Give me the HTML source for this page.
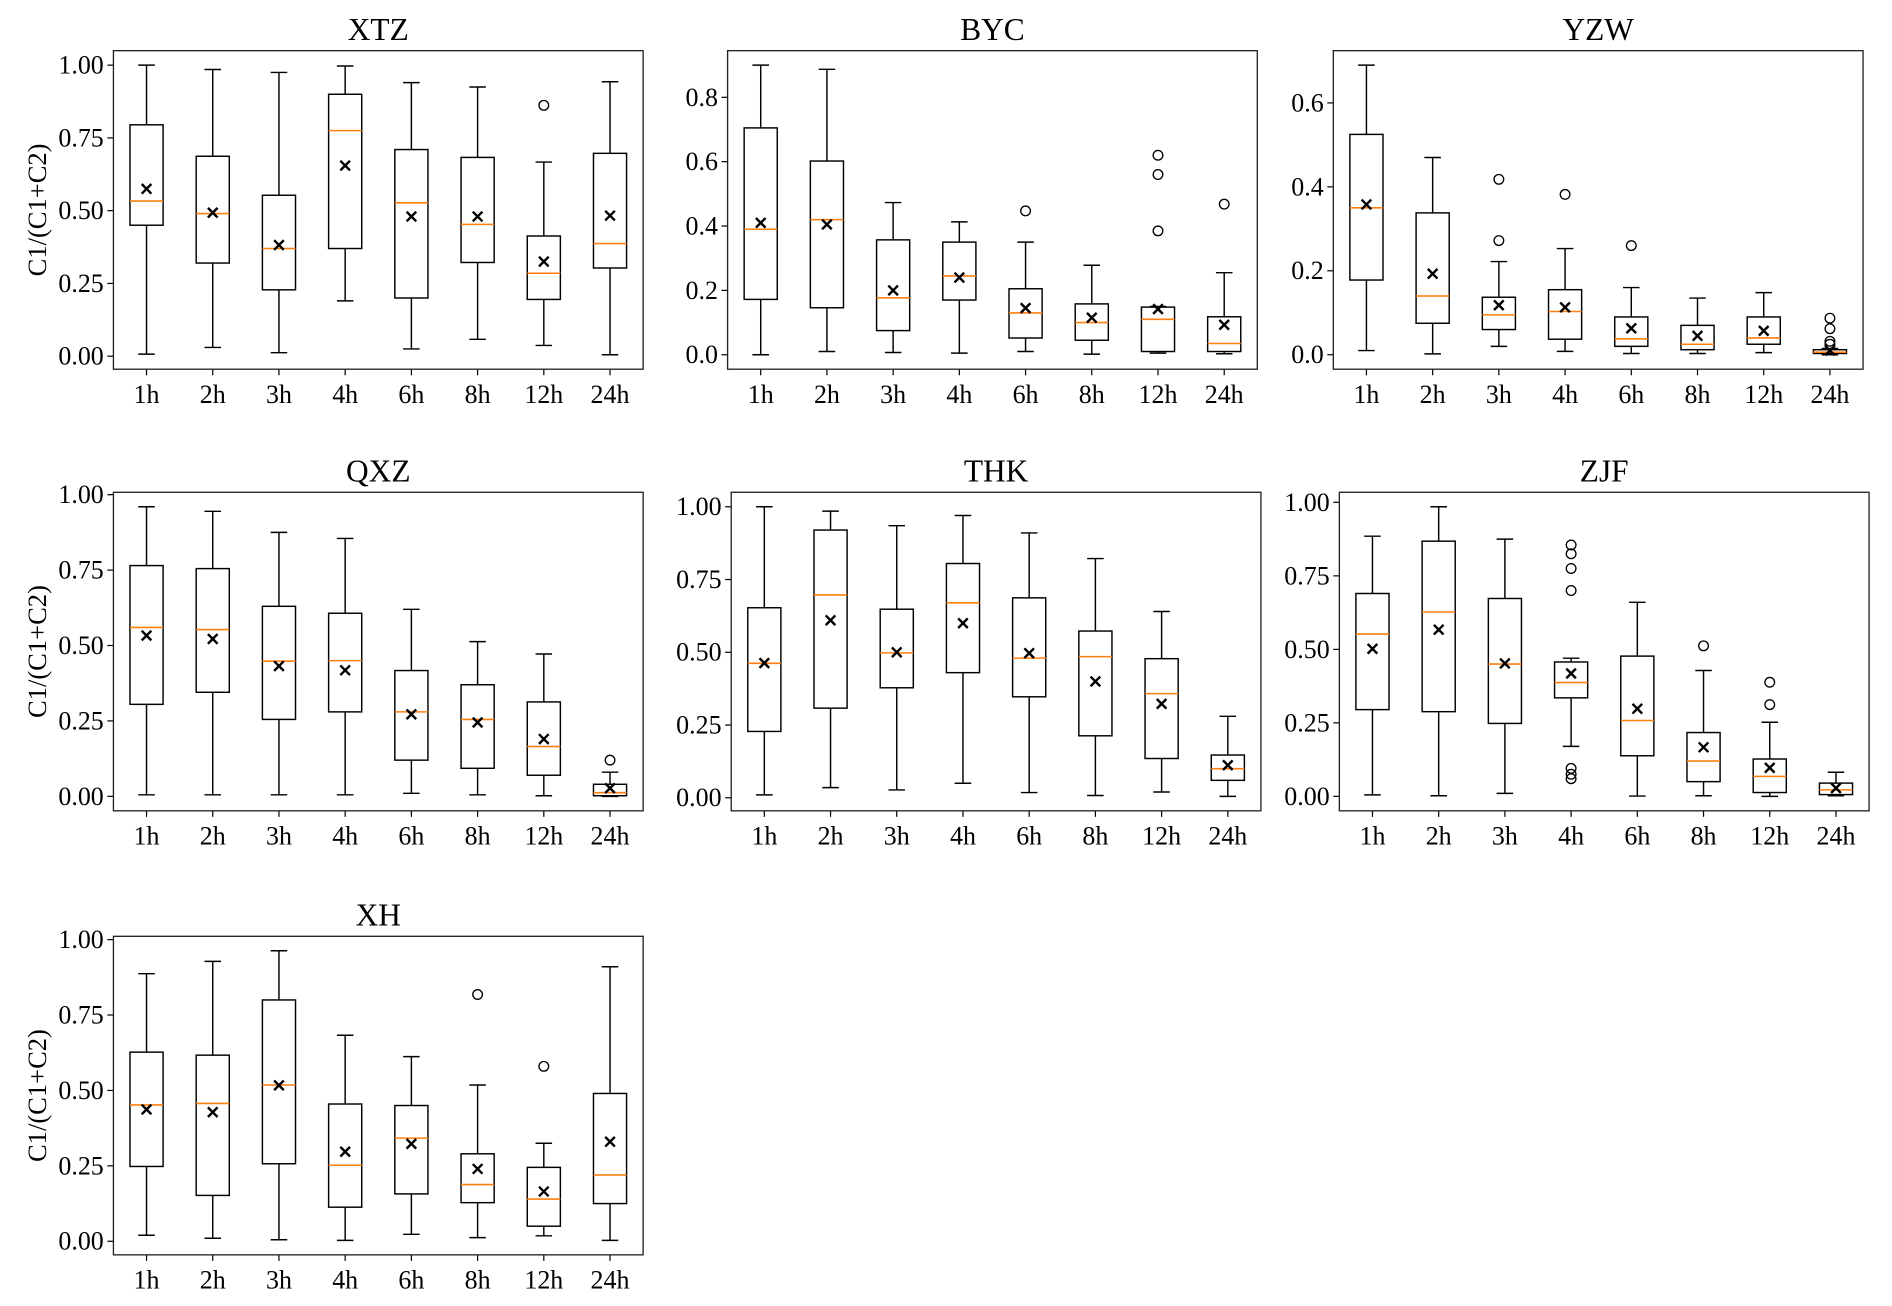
<!DOCTYPE html>
<html><head><meta charset="utf-8">
<style>
html,body{margin:0;padding:0;background:#fff;}
svg{display:block;}
text{font-family:"Liberation Serif","DejaVu Serif",serif;fill:#000;}
</style></head>
<body>
<svg id="chart" width="1892" height="1306" viewBox="0 0 1568 1082.4" preserveAspectRatio="none" xmlns="http://www.w3.org/2000/svg"></svg>
<script>
const categories = ["1h","2h","3h","4h","6h","8h","12h","24h"];
const panelNames = ["XTZ","BYC","YZW","QXZ","THK","ZJF","XH"];
// each box: [whiskerLow, q1, median, q3, whiskerHigh, mean]
const statsXTZ = [[.007,.45,.533,.795,1.0,.575],[.03,.32,.49,.687,.985,.493],[.012,.228,.37,.553,.975,.382],[.19,.37,.775,.9,.997,.655],[.025,.2,.527,.71,.94,.48],[.058,.322,.453,.683,.925,.48],[.037,.195,.285,.413,.667,.325],[.005,.303,.387,.697,.943,.483]];
const fliersXTZ = [[],[],[],[],[],[],[.862],[]];
const statsBYC = [[0,.172,.39,.705,.9,.41],[.01,.146,.42,.602,.887,.405],[.007,.075,.177,.357,.473,.2],[.005,.17,.245,.35,.413,.24],[.01,.052,.13,.205,.35,.145],[.002,.045,.1,.158,.278,.115],[.005,.01,.11,.148,.15,.142],[.003,.01,.035,.118,.255,.093]];
const fliersBYC = [[],[],[],[],[.447],[],[.62,.56,.385],[.468]];
const statsYZW = [[.01,.178,.35,.525,.69,.358],[.002,.075,.14,.338,.47,.193],[.02,.06,.095,.137,.222,.118],[.008,.037,.103,.155,.253,.113],[.003,.02,.038,.09,.16,.063],[.003,.012,.025,.07,.135,.045],[.005,.025,.04,.09,.148,.057],[0,.003,.006,.012,.015,.01]];
const fliersYZW = [[],[],[.418,.272],[.382],[.26],[],[],[.087,.062,.032,.025]];
const statsQXZ = [[.005,.305,.56,.765,.96,.533],[.005,.345,.553,.755,.945,.522],[.005,.255,.448,.63,.875,.432],[.005,.28,.45,.607,.855,.418],[.01,.12,.28,.417,.62,.272],[.005,.093,.255,.37,.513,.245],[.002,.07,.165,.313,.472,.19],[0,.002,.012,.04,.08,.027]];
const fliersQXZ = [[],[],[],[],[],[],[],[.12]];
const statsTHK = [[.01,.228,.462,.653,1.0,.463],[.035,.308,.697,.92,.985,.61],[.027,.378,.498,.648,.935,.5],[.05,.43,.67,.805,.97,.6],[.018,.347,.48,.687,.91,.497],[.008,.213,.485,.573,.822,.4],[.02,.135,.358,.478,.64,.323],[.005,.06,.1,.147,.28,.112]];
const fliersTHK = [[],[],[],[],[],[],[],[]];
const statsZJF = [[.005,.295,.552,.69,.885,.502],[.002,.288,.627,.868,.985,.567],[.01,.248,.45,.673,.875,.452],[.17,.335,.387,.457,.47,.418],[.001,.138,.258,.477,.66,.298],[.002,.05,.12,.217,.428,.167],[0,.013,.068,.127,.252,.097],[.002,.006,.022,.045,.082,.028]];
const fliersZJF = [[],[],[],[.855,.825,.775,.70,.095,.075,.06],[],[.512],[.388,.312],[]];
const statsXH = [[.02,.248,.452,.627,.887,.437],[.01,.152,.457,.617,.928,.428],[.005,.257,.518,.8,.963,.517],[.003,.113,.252,.455,.683,.297],[.023,.157,.342,.45,.612,.323],[.012,.128,.188,.29,.518,.24],[.018,.05,.14,.245,.325,.165],[.003,.125,.22,.49,.91,.33]];
const fliersXH = [[],[],[],[],[],[.818],[.58],[]];
const ticks2 = [0,.25,.5,.75,1.0];
const ticksBYC = [0,.2,.4,.6,.8];
const ticksYZW = [0,.2,.4,.6];

const NS="http://www.w3.org/2000/svg";
const svg=document.getElementById('chart');
function mk(tag,attrs,parent){const e=document.createElementNS(NS,tag);for(const k in attrs)e.setAttribute(k,attrs[k]);(parent||svg).appendChild(e);return e;}

const panels=[
 {name:panelNames[0],stats:statsXTZ,fliers:fliersXTZ,ticks:ticks2,dec:2,x:94,y:42,ylab:true},
 {name:panelNames[1],stats:statsBYC,fliers:fliersBYC,ticks:ticksBYC,dec:1,x:603,y:42,ylab:false},
 {name:panelNames[2],stats:statsYZW,fliers:fliersYZW,ticks:ticksYZW,dec:1,x:1105,y:42,ylab:false},
 {name:panelNames[3],stats:statsQXZ,fliers:fliersQXZ,ticks:ticks2,dec:2,x:94,y:408,ylab:true},
 {name:panelNames[4],stats:statsTHK,fliers:fliersTHK,ticks:ticks2,dec:2,x:606,y:408,ylab:false},
 {name:panelNames[5],stats:statsZJF,fliers:fliersZJF,ticks:ticks2,dec:2,x:1110,y:408,ylab:false},
 {name:panelNames[6],stats:statsXH,fliers:fliersXH,ticks:ticks2,dec:2,x:94,y:776,ylab:true}
];
const W=439,H=264;

panels.forEach(p=>{
  const g=mk('g',{});
  
  
  let lo=Infinity,hi=-Infinity;
  p.stats.forEach((s,i)=>{lo=Math.min(lo,s[0]);hi=Math.max(hi,s[4]);p.fliers[i].forEach(f=>{lo=Math.min(lo,f);hi=Math.max(hi,f);});});
  const pad=(hi-lo)*0.05; const dlo=lo-pad, dhi=hi+pad;
  const yS=v=>p.y+H-(v-dlo)/(dhi-dlo)*H;
  const xS=i=>p.x+(i+0.5)*W/categories.length;
  const bw=0.5*W/categories.length;
  const t=mk('text',{x:p.x+W/2,y:p.y-9,'text-anchor':'middle','font-size':26},g);
  t.textContent=p.name;
  
  
  p.ticks.forEach(v=>{
    const y=yS(v);
    mk('line',{x1:p.x-5,x2:p.x,y1:y,y2:y,stroke:'#000','stroke-width':1},g);
    const tl=mk('text',{x:p.x-8,y:y+7,'text-anchor':'end','font-size':21.5},g);
    tl.textContent=v.toFixed(p.dec);
    
    
  });
  categories.forEach((c,i)=>{
    const x=xS(i);
    mk('line',{x1:x,x2:x,y1:p.y+H,y2:p.y+H+5,stroke:'#000','stroke-width':1},g);
    const tl=mk('text',{x:x,y:p.y+H+28,'text-anchor':'middle','font-size':21.5},g);
    tl.textContent=c;
    
    
  });
  if(p.ylab){
    const cy=p.y+H/2;
    const yl=mk('text',{x:0,y:0,'text-anchor':'middle','font-size':22,transform:`translate(38,${cy}) rotate(-90)`},g);
    yl.textContent='C1/(C1+C2)';
    
    
  }
  p.stats.forEach((s,i)=>{
    const x=xS(i);
    const bg=mk('g',{stroke:'#000','stroke-width':1.2,fill:'none'},g);
    
    
    mk('line',{x1:x,x2:x,y1:yS(s[0]),y2:yS(s[1])},bg);
    mk('line',{x1:x,x2:x,y1:yS(s[3]),y2:yS(s[4])},bg);
    mk('line',{x1:x-bw/4,x2:x+bw/4,y1:yS(s[0]),y2:yS(s[0])},bg);
    mk('line',{x1:x-bw/4,x2:x+bw/4,y1:yS(s[4]),y2:yS(s[4])},bg);
    mk('rect',{x:x-bw/2,y:yS(s[3]),width:bw,height:Math.max(0.5,yS(s[1])-yS(s[3]))},bg);
    mk('line',{x1:x-bw/2,x2:x+bw/2,y1:yS(s[2]),y2:yS(s[2]),stroke:'#ff7f0e','stroke-width':1.3},bg);
    const my=yS(s[5]),d=4;
    mk('path',{d:`M${x-d},${my-d}L${x+d},${my+d}M${x-d},${my+d}L${x+d},${my-d}`,'stroke-width':2},bg);
    p.fliers[i].forEach(f=>{
      const c=mk('circle',{cx:x,cy:yS(f),r:4,'stroke-width':1.1},bg);
      
      
    });
  });
  const fr=mk('rect',{x:p.x,y:p.y,width:W,height:H,fill:'none',stroke:'#222','stroke-width':1.1},g);
  
  
});
</script>
</body></html>
